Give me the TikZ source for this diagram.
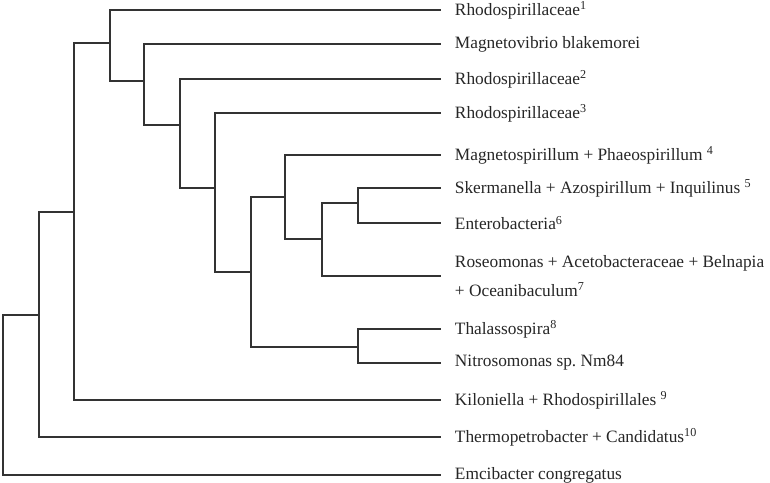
\documentclass[tikz,border=0pt]{standalone}
\usepackage{fontspec}
\setmainfont{Liberation Serif}
\usepackage{tikz}
\usetikzlibrary{positioning, calc}

\begin{document}
\begin{tikzpicture}[x=0.75pt, y=-0.75pt,
        branch/.style={line width=0.9pt, black!80, line cap=rect},
        taxon/.style={anchor=west, inner xsep=11pt, inner ysep=0pt, align=left,
                      font=\fontsize{13pt}{21.75pt}\selectfont, text=black!85}]
        \useasboundingbox (0,0) rectangle (770,482);

        % Leaves
        \foreach \y/\name/\txt in {
                10/rhoA/{Rhodospirillaceae\textsuperscript{1}},
                44/mvib/{Magnetovibrio blakemorei},
                79/rhoB/{Rhodospirillaceae\textsuperscript{2}},
                113/rhoC/{Rhodospirillaceae\textsuperscript{3}},
                155/mspir/{Magnetospirillum + Phaeospirillum \textsuperscript{4}},
                188/skerm/{Skermanella + Azospirillum + Inquilinus \textsuperscript{5}},
                223/entero/{Enterobacteria\textsuperscript{6}},
                276/roseo/{Roseomonas + Acetobacteraceae + Belnapia\\+ Oceanibaculum\textsuperscript{7}},
                329/thal/{Thalassospira\textsuperscript{8}},
                363/nitro/{Nitrosomonas sp.\ Nm84},
                400/kilo/{Kiloniella + Rhodospirillales \textsuperscript{9}},
                437/thermo/{Thermopetrobacter + Candidatus\textsuperscript{10}},
                475/emci/{Emcibacter congregatus}} {
            \node[taxon] (\name) at (440,\y) {\txt};
        }

        % Internal nodes
        \coordinate (nSE)   at (358,203);
        \coordinate (nSER)  at (322,239);
        \coordinate (nMag)  at (285,197);
        \coordinate (nTN)   at (358,347);
        \coordinate (nCore) at (251,272);
        \coordinate (nRC)   at (215,188);
        \coordinate (nRB)   at (180,125);
        \coordinate (nMV)   at (144,81);
        \coordinate (nRA)   at (110,43);
        \coordinate (nKil)  at (74,212);
        \coordinate (nTh)   at (39,315);
        \coordinate (root)  at (3,395);

        % Branches
        \draw[branch] (skerm.west) -| (nSE) |- (entero.west);
        \draw[branch] (nSE) -| (nSER) |- (roseo.west);
        \draw[branch] (mspir.west) -| (nMag) |- (nSER);
        \draw[branch] (thal.west) -| (nTN) |- (nitro.west);
        \draw[branch] (nMag) -| (nCore) |- (nTN);
        \draw[branch] (rhoC.west) -| (nRC) |- (nCore);
        \draw[branch] (rhoB.west) -| (nRB) |- (nRC);
        \draw[branch] (mvib.west) -| (nMV) |- (nRB);
        \draw[branch] (rhoA.west) -| (nRA) |- (nMV);
        \draw[branch] (nRA) -| (nKil) |- (kilo.west);
        \draw[branch] (nKil) -| (nTh) |- (thermo.west);
        \draw[branch] (nTh) -| (root) |- (emci.west);

    \end{tikzpicture}
\end{document}
